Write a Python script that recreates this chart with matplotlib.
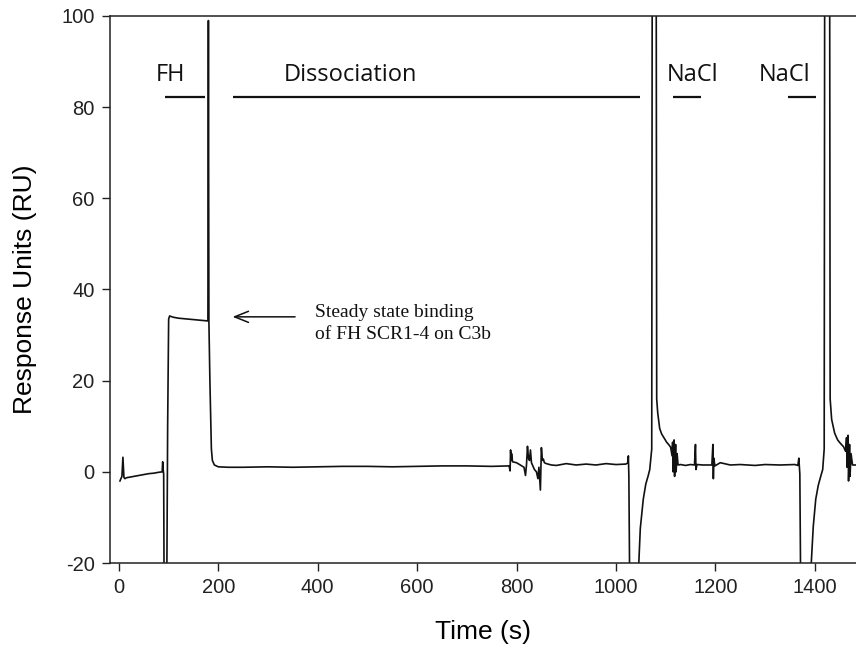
import matplotlib
matplotlib.use("Agg")
import numpy as np
import matplotlib.pyplot as plt

plt.rcParams["axes.unicode_minus"] = False

# sensorgram: time (s) and response (RU)
# values below -20 / above 100 are clipped by the axes like in the original
time_s = [
    2, 4, 6, 7, 8, 9, 10, 12, 15, 20, 30, 40, 50, 60, 70, 80, 87, 88, 89, 90,
    91, 96, 98, 100, 102, 104, 110, 120, 140, 160, 178,
    179, 180, 181, 183, 186, 188, 192, 200, 220,
    250, 300, 350, 400, 450, 500, 550, 600, 650, 700, 750, 780,
    785, 787, 788, 789, 790, 792, 800, 815, 818, 820, 822, 824, 826, 828,
    830, 832, 836, 840, 843, 845, 848, 850, 852, 854, 856, 860, 870,
    880, 900, 920, 940, 960, 980, 1000, 1020, 1024, 1025, 1026, 1028,
    1044, 1046, 1049, 1055, 1060, 1065, 1068, 1072, 1073, 1081, 1082,
    1084, 1088, 1092, 1097, 1102, 1106, 1110, 1113, 1114, 1115, 1117,
    1118, 1120, 1121, 1123, 1125, 1130, 1140, 1150, 1158, 1160, 1161,
    1163, 1175, 1193, 1195, 1196, 1197, 1199, 1210, 1230, 1250, 1280,
    1300, 1330, 1360, 1366, 1368, 1370, 1372,
    1390, 1393, 1397, 1402, 1407, 1412, 1416, 1419, 1420, 1430, 1431,
    1434, 1440, 1446, 1452, 1458, 1462, 1464, 1465, 1467, 1468, 1470,
    1471, 1473, 1476, 1480, 1490,
]
response_ru = [
    -2.0, -1.5, -1.0, 1.0, 3.2, 1.0, -1.2, -1.5, -1.3, -1.2, -1.0, -0.8, -0.6, -0.4, -0.3, -0.1, 0.0, 2.2, 0.5, -0.5,
    -30, -30, 10, 33.5, 34.2, 34.1, 33.9, 33.7, 33.5, 33.3, 33.1,
    33.1, 99.0, 33.0, 20.0, 5.0, 2.5, 1.5, 1.1, 1.0,
    1.0, 1.1, 1.0, 1.1, 1.2, 1.2, 1.1, 1.2, 1.3, 1.3, 1.2, 1.3,
    1.3, 0.2, 4.8, 2.5, 4.0, 2.2, 2.0, 1.0, -0.8, 1.5, 5.6, 3.0, 2.5, 4.8,
    2.0, 1.5, 0.5, 0.0, -1.5, 1.0, -4.0, 5.3, 2.5, 2.8, 2.0, 1.8, 1.5,
    1.4, 1.8, 1.5, 1.7, 1.5, 1.8, 1.6, 1.7, 2.0, 3.5, -1.0, -30,
    -30, -20, -12.4, -6.0, -2.7, -0.8, 0.5, 5.0, 110, 110, 16.0,
    13.0, 9.5, 8.3, 7.4, 6.5, 6.0, 5.4, 3.5, 6.5, 0.0, 7.0,
    -1.0, 6.0, 0.0, 4.0, 1.5, 1.6, 1.4, 1.6, 1.5, 6.0, 0.5,
    1.6, 1.5, 1.5, 6.0, -1.5, 3.0, 1.3, 2.0, 1.5, 1.6, 1.4,
    1.6, 1.5, 1.6, 1.4, 3.0, -0.5, -30,
    -30, -20, -12.0, -6.0, -3.0, -1.0, 0.5, 5.0, 110, 110, 16.0,
    11.5, 8.5, 7.0, 6.2, 5.5, 4.5, 7.5, 1.0, 8.0, -2.0, 6.0,
    -1.0, 4.0, 1.5, 1.5, 1.5,
]

# injection phases drawn as bars above the trace
phase_names = ["FH", "Dissociation", "NaCl", "NaCl"]
phase_label_x = [103, 465, 1155, 1340]
phase_start = [92, 229, 1115, 1346]
phase_end = [173, 1048, 1171, 1402]

note_text = "Steady state binding\nof FH SCR1-4 on C3b"

fig = plt.figure(figsize=(8.56, 6.52), dpi=100)
ax = fig.add_axes([0.1285, 0.1365, 0.8715, 0.839])

ax.plot(time_s, response_ru, color="#111111", lw=1.2)

for name, lx, x0, x1 in zip(phase_names, phase_label_x, phase_start, phase_end):
    ax.text(lx, 87.1, name, ha="center", va="center", fontsize=17,
            family="Open Sans", color="#111111")
    ax.plot([x0, x1], [82.3, 82.3], color="#111111", lw=1.6,
            solid_capstyle="butt")

ax.annotate("", xy=(223, 34.0), xytext=(360, 34.0),
            arrowprops=dict(arrowstyle="->,head_length=1.0,head_width=0.4",
                            color="#111111", lw=1.1))
ax.text(394, 36.9, note_text, ha="left", va="top", fontsize=14,
        family="Liberation Serif", linespacing=1.45, color="#111111")

ax.set_xlim(-18, 1483)
ax.set_ylim(-20, 100)
ax.set_xticks(np.arange(0, 1401, 200))
ax.set_yticks(np.arange(-20, 101, 20))

for side in ["left", "bottom", "top"]:
    ax.spines[side].set_linewidth(1.1)
    ax.spines[side].set_color("#222222")
ax.spines["right"].set_visible(False)

ax.tick_params(direction="out", length=6, width=1.0, colors="#222222",
               labelsize=14.5, pad=5)
for lab in ax.get_xticklabels() + ax.get_yticklabels():
    lab.set_family("Liberation Sans")

ax.set_xlabel("Time (s)", fontsize=19, family="Liberation Sans")
ax.set_ylabel("Response Units (RU)", fontsize=19, family="Liberation Sans")
ax.xaxis.set_label_coords(0.5, -0.104)
ax.yaxis.set_label_coords(-0.098, 0.5)

fig.savefig("out.png", dpi=100)
